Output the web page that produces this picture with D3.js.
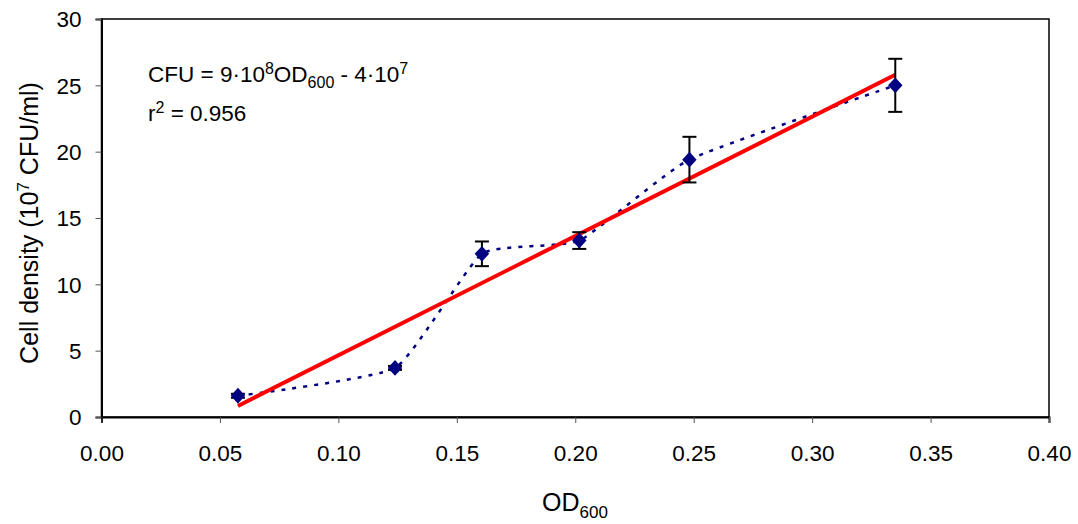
<!DOCTYPE html>
<html><head><meta charset="utf-8">
<script src="https://cdn.jsdelivr.net/npm/d3@7"></script>
<style>body{margin:0;background:#fff}svg{display:block;font-family:"Liberation Sans",Arial,sans-serif}</style>
</head><body><svg id="c" width="1078" height="524"></svg>
<script>
const od = [0.0576, 0.1239, 0.1606, 0.2017, 0.2482, 0.3351];
const cfu = [1.6, 3.7, 12.3, 13.3, 19.4, 25.0];
const err = [0.15, 0.15, 0.93, 0.63, 1.72, 2.0];
const xTicks = [0, 0.05, 0.10, 0.15, 0.20, 0.25, 0.30, 0.35, 0.40];
const yTicks = [0, 5, 10, 15, 20, 25, 30];

const svg = d3.select("#c");
const L = 101.5, R = 1049, T = 19, B = 417;
const x = d3.scaleLinear().domain([0, 0.4]).range([L, R]);
const y = d3.scaleLinear().domain([0, 30]).range([B, T]);

// frame
svg.append("rect").attr("x", L).attr("y", T).attr("width", R - L).attr("height", B - T)
  .attr("fill", "none").attr("stroke", "#000").attr("stroke-width", 1.5);

// axes
const xa = svg.append("g").attr("transform", `translate(0,${B})`)
  .call(d3.axisBottom(x).tickValues(xTicks).tickFormat(d3.format(".2f")).tickSize(6).tickPadding(22));
const ya = svg.append("g").attr("transform", `translate(${L},0)`)
  .call(d3.axisLeft(y).tickValues(yTicks).tickSize(6).tickPadding(14));
[xa, ya].forEach(a => {
  a.select(".domain").attr("stroke", "#000").attr("stroke-width", 2);
  a.selectAll(".tick line").attr("stroke", "#555").attr("stroke-width", 1);
  a.selectAll("text").attr("font-size", 22.5).attr("fill", "#000").attr("font-family", '"Liberation Sans",Arial,sans-serif');
});
ya.selectAll("text").attr("dy", "0.35em");

// data
const pts = od.map((v, i) => ({ x: v, y: cfu[i], e: err[i] }));

// smoothed dotted line
svg.append("path").datum(pts)
  .attr("d", d3.line().x(d => x(d.x)).y(d => y(d.y)).curve(d3.curveCardinal.tension(0.55)))
  .attr("fill", "none").attr("stroke", "#000080").attr("stroke-width", 2.5)
  .attr("stroke-dasharray", "4,7");

// regression
const mx = d3.mean(od), my = d3.mean(cfu);
const slope = d3.sum(od, (v, i) => (v - mx) * (cfu[i] - my)) / d3.sum(od, v => (v - mx) ** 2);
const icpt = my - slope * mx;
const x0 = d3.min(od), x1 = d3.max(od);
svg.append("line")
  .attr("x1", x(x0)).attr("y1", y(slope * x0 + icpt))
  .attr("x2", x(x1)).attr("y2", y(slope * x1 + icpt))
  .attr("stroke", "#ff0000").attr("stroke-width", 4);

// error bars
const eb = svg.append("g").attr("stroke", "#000").attr("stroke-width", 2);
pts.forEach(d => {
  eb.append("line").attr("x1", x(d.x)).attr("x2", x(d.x)).attr("y1", y(d.y - d.e)).attr("y2", y(d.y + d.e));
  [d.y - d.e, d.y + d.e].forEach(v => eb.append("line")
    .attr("x1", x(d.x) - 7).attr("x2", x(d.x) + 7).attr("y1", y(v)).attr("y2", y(v)));
});

// diamonds
svg.append("g").selectAll("path").data(pts).join("path")
  .attr("d", d3.symbol().type(d3.symbolSquare).size(104))
  .attr("transform", d => `translate(${x(d.x)},${y(d.y)}) scale(1,1.1) rotate(45)`)
  .attr("fill", "#000080");

// annotation
const t1 = svg.append("text").attr("x", 148).attr("y", 82).attr("font-size", 22.5);
t1.append("tspan").text("CFU = 9·10");
t1.append("tspan").attr("font-size", 16).attr("dy", -8).text("8");
t1.append("tspan").attr("dy", 8).text("OD");
t1.append("tspan").attr("font-size", 16).attr("dy", 6).text("600");
t1.append("tspan").attr("dy", -6).text(" - 4·10");
t1.append("tspan").attr("font-size", 16).attr("dy", -8).text("7");
const t2 = svg.append("text").attr("x", 148).attr("y", 121).attr("font-size", 22.5);
t2.append("tspan").text("r");
t2.append("tspan").attr("font-size", 16).attr("dy", -8).text("2");
t2.append("tspan").attr("dy", 8).text(" = 0.956");

// axis titles
const xt = svg.append("text").attr("x", 575).attr("y", 511).attr("text-anchor", "middle").attr("font-size", 25);
xt.append("tspan").text("OD");
xt.append("tspan").attr("font-size", 17).attr("dy", 7).text("600");
const yt = svg.append("text").attr("transform", "translate(38,223) rotate(-90)").attr("text-anchor", "middle").attr("font-size", 25);
yt.append("tspan").text("Cell density (10");
yt.append("tspan").attr("font-size", 17).attr("dy", -9).text("7");
yt.append("tspan").attr("dy", 9).text(" CFU/ml)");
</script></body></html>
